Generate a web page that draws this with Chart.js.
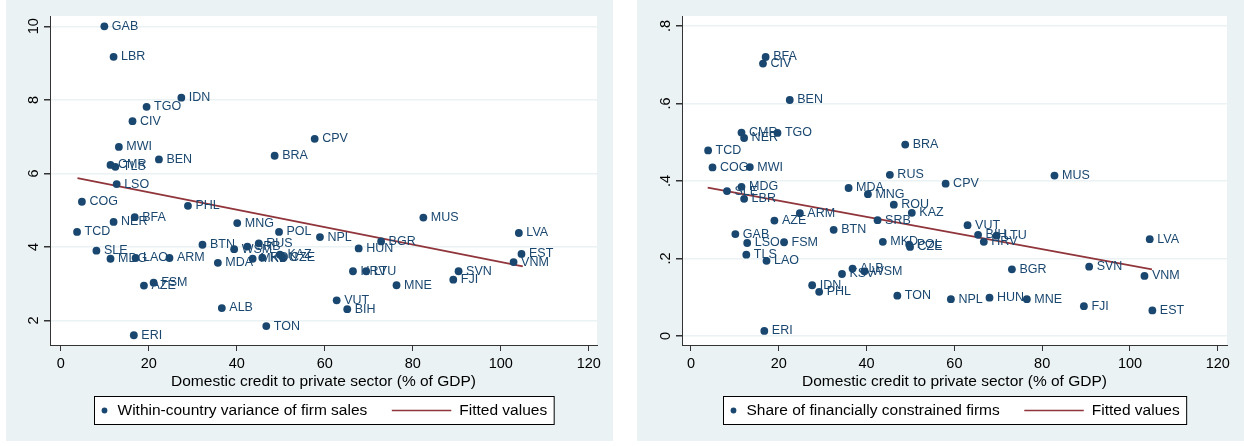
<!DOCTYPE html>
<html>
<head>
<meta charset="utf-8">
<script src="https://cdn.jsdelivr.net/npm/chart.js@4.4.1/dist/chart.umd.min.js"></script>
<style>
  html, body { margin: 0; padding: 0; background: #fff; }
  .panel { position: absolute; top: 0; width: 622px; height: 446px; }
  #leftPanel { left: 0; }
  #rightPanel { left: 622px; }
</style>
</head>
<body>
<div class="panel" id="leftPanel"><canvas id="chartLeft" width="622" height="446"></canvas></div>
<div class="panel" id="rightPanel"><canvas id="chartRight" width="622" height="446"></canvas></div>
<script>
// Data
const xTicks = [0, 20, 40, 60, 80, 100, 120];

const leftCodes = ["GAB","LBR","IDN","TGO","CIV","MWI","BEN","BRA","CPV","CMR","TLS","LSO","COG","PHL","BFA","NER","MNG","TCD","POL","MUS","LVA","NPL","BGR","RUS","BTN","SRB","HUN","WSM","SLE","EST","KAZ","CZE","ROU","LAO","ARM","MDG","MKD","VNM","MDA","HRV","LTU","SVN","FJI","FSM","MNE","AZE","VUT","ALB","BIH","TON","ERI"];
const leftCredit = [9.9,12.0,27.4,19.5,16.3,13.2,22.3,48.6,57.7,11.3,12.4,12.7,4.8,28.9,16.8,12.0,40.1,3.7,49.6,82.4,104.1,58.9,72.8,45.0,32.2,42.4,67.7,39.4,8.1,104.7,49.8,50.4,45.8,17.0,24.7,11.3,43.6,102.9,35.7,66.4,69.4,90.4,89.2,21.1,76.3,18.9,62.7,36.6,65.1,46.7,16.6];
const leftVariance = [10.0,9.17,8.06,7.81,7.42,6.72,6.38,6.48,6.94,6.23,6.18,5.71,5.23,5.12,4.81,4.68,4.65,4.41,4.41,4.80,4.38,4.27,4.15,4.10,4.06,4.01,3.96,3.94,3.90,3.81,3.79,3.72,3.71,3.70,3.70,3.68,3.68,3.59,3.57,3.34,3.34,3.34,3.11,3.03,2.96,2.95,2.55,2.34,2.31,1.85,1.60];
const leftFitX = [3.8, 105];
const leftFitY = [5.87, 3.47];
const leftYTicks = [2, 4, 6, 8, 10];
const leftYTickLabels = ["2", "4", "6", "8", "10"];

const rightCodes = ["BFA","CIV","BEN","CMR","TGO","NER","BRA","TCD","COG","MWI","RUS","MUS","CPV","MDG","MDA","SLE","MNG","LBR","ROU","KAZ","ARM","SRB","AZE","VUT","BTN","GAB","BIH","LTU","LVA","MKD","HRV","FSM","LSO","POL","CZE","TLS","LAO","SVN","ALB","BGR","WSM","KSV","VNM","IDN","PHL","TON","HUN","NPL","MNE","FJI","EST","ERI"];
const rightCredit = [17.0,16.4,22.5,11.5,19.7,12.1,48.8,3.9,4.9,13.4,45.3,82.8,58.0,11.5,35.9,8.2,40.3,12.1,46.2,50.3,24.8,42.5,19.0,63.0,32.5,10.1,65.4,69.6,104.5,43.7,66.7,21.2,12.8,49.7,49.9,12.6,17.2,90.7,36.8,73.1,39.5,34.4,103.3,27.6,29.2,47.0,68.0,59.2,76.5,89.5,105.1,16.7];
const rightShare = [.720,.703,.609,.525,.524,.511,.494,.479,.435,.436,.416,.414,.393,.385,.382,.374,.366,.354,.339,.318,.317,.299,.298,.286,.274,.263,.261,.259,.250,.243,.243,.242,.240,.236,.230,.210,.194,.179,.174,.172,.167,.160,.155,.131,.114,.104,.099,.095,.095,.077,.066,.013];
const rightFitX = [3.8, 105];
const rightFitY = [0.383, 0.172];
const rightYTicks = [0, 0.2, 0.4, 0.6, 0.8];
const rightYTickLabels = ["0", ".2", ".4", ".6", ".8"];

const navy = "#1A476F";
const maroon = "#90353B";
const bgColor = "#EAF2F3";
const axisColor = "#333333";
const fontFamily = "'Liberation Sans', Arial, Helvetica, sans-serif";

Chart.defaults.font.family = fontFamily;

const stataPlugin = {
    id: "stata",
    beforeDraw(chart, args, opts) {
        const { ctx, chartArea: a } = chart;
        ctx.save();
        ctx.fillStyle = bgColor;
        ctx.fillRect(opts.bgLeft, 0, 607, 441);
        ctx.fillStyle = "#fff";
        ctx.fillRect(a.left, a.top, a.right - a.left, a.bottom - a.top);
        ctx.restore();
    },
    afterDatasetsDraw(chart, args, opts) {
        // country codes to the right of each marker
        const ctx = chart.ctx;
        const meta = chart.getDatasetMeta(0);
        ctx.save();
        ctx.font = "12.5px " + fontFamily;
        ctx.fillStyle = navy;
        ctx.textAlign = "left";
        ctx.textBaseline = "middle";
        meta.data.forEach((el, i) => {
            ctx.fillText(opts.codes[i], el.x + 7.5, el.y);
        });
        ctx.restore();
    },
    afterDraw(chart, args, opts) {
        const { ctx, chartArea: a } = chart;
        const yScale = chart.scales.y;
        ctx.save();
        // vertical y tick labels, as Stata draws them
        ctx.font = "14.5px " + fontFamily;
        ctx.fillStyle = "#000";
        ctx.textAlign = "center";
        ctx.textBaseline = "alphabetic";
        opts.yTicks.forEach((v, i) => {
            const py = yScale.getPixelForValue(v);
            ctx.save();
            ctx.translate(a.left - 12.5, py);
            ctx.rotate(-Math.PI / 2);
            ctx.fillText(opts.yTickLabels[i], 0, 0);
            ctx.restore();
        });

        // legend box
        const label1 = chart.data.datasets[0].label;
        const label2 = chart.data.datasets[1].label;
        ctx.font = "15.5px " + fontFamily;
        const w1 = ctx.measureText(label1).width;
        const w2 = ctx.measureText(label2).width;
        const w = 23 + w1 + 24.5 + 59.5 + 8 + w2 + 7;
        const x0 = Math.round((a.left + a.right) / 2 - w / 2) + 0.5;
        const top = 396.5, h = 28, cy = 410.5;
        ctx.fillStyle = "#fff";
        ctx.fillRect(x0, top, w, h);
        ctx.strokeStyle = "#000";
        ctx.lineWidth = 1;
        ctx.strokeRect(x0, top, w, h);
        ctx.fillStyle = navy;
        ctx.beginPath();
        ctx.arc(x0 + 10, cy, 2.9, 0, Math.PI * 2);
        ctx.fill();
        ctx.fillStyle = "#000";
        ctx.textAlign = "left";
        ctx.textBaseline = "middle";
        ctx.fillText(label1, x0 + 23, cy);
        const lx = x0 + 23 + w1 + 24.5;
        ctx.strokeStyle = maroon;
        ctx.lineWidth = 1.6;
        ctx.beginPath();
        ctx.moveTo(lx, cy);
        ctx.lineTo(lx + 59.5, cy);
        ctx.stroke();
        ctx.fillText(label2, lx + 59.5 + 8, cy);
        ctx.restore();
    }
};

const makeChart = function(elementId, p) {
    const ctx = document.getElementById(elementId);
    return new Chart(ctx, {
        type: "scatter",
        data: {
            datasets: [
                {
                    label: p.seriesLabel,
                    data: p.xs.map((x, i) => ({ x: x, y: p.ys[i] })),
                    backgroundColor: navy,
                    borderWidth: 0,
                    pointRadius: 3.9,
                    pointHoverRadius: 3.9
                },
                {
                    type: "line",
                    label: "Fitted values",
                    data: p.fitX.map((x, i) => ({ x: x, y: p.fitY[i] })),
                    borderColor: maroon,
                    borderWidth: 1.8,
                    pointRadius: 0,
                    fill: false
                }
            ]
        },
        options: {
            responsive: false,
            animation: false,
            events: [],
            layout: {
                autoPadding: false,
                padding: { top: 16, right: p.padRight, bottom: 54.6, left: 0 }
            },
            plugins: {
                legend: { display: false },
                tooltip: { enabled: false },
                stata: {
                    bgLeft: p.bgLeft,
                    codes: p.codes,
                    yTicks: p.yTicks,
                    yTickLabels: p.yTickLabels
                }
            },
            scales: {
                x: {
                    type: "linear",
                    min: p.xMin,
                    max: p.xMax,
                    afterBuildTicks: s => { s.ticks = xTicks.map(v => ({ value: v })); },
                    afterFit: s => { s.height = 46.4; },
                    border: { display: true, color: axisColor, width: 1 },
                    grid: { drawOnChartArea: false, drawTicks: true, tickLength: 6, tickColor: axisColor },
                    ticks: {
                        color: "#000",
                        font: { size: 14.5 },
                        padding: 4.5,
                        maxRotation: 0,
                        autoSkip: false,
                        callback: v => String(v)
                    },
                    title: {
                        display: true,
                        text: "Domestic credit to private sector (% of GDP)",
                        color: "#000",
                        font: { size: 15.5 },
                        padding: { top: 0, bottom: 0 }
                    }
                },
                y: {
                    type: "linear",
                    min: p.yMin,
                    max: p.yMax,
                    afterBuildTicks: s => { s.ticks = p.yTicks.map(v => ({ value: v })); },
                    afterFit: s => { s.width = p.yAxisWidth; },
                    border: { display: true, color: axisColor, width: 1 },
                    grid: { color: bgColor, lineWidth: 1.5, drawTicks: true, tickLength: 6, tickColor: axisColor },
                    ticks: { display: false }
                }
            }
        },
        plugins: [stataPlugin]
    });
};

makeChart("chartLeft", {
    seriesLabel: "Within-country variance of firm sales",
    codes: leftCodes, xs: leftCredit, ys: leftVariance,
    fitX: leftFitX, fitY: leftFitY,
    yTicks: leftYTicks, yTickLabels: leftYTickLabels,
    xMin: -2.45, xMax: 121.86, yMin: 1.335, yMax: 10.28,
    yAxisWidth: 50, padRight: 25, bgLeft: 6
});

makeChart("chartRight", {
    seriesLabel: "Share of financially constrained firms",
    codes: rightCodes, xs: rightCredit, ys: rightShare,
    fitX: rightFitX, fitY: rightFitY,
    yTicks: rightYTicks, yTickLabels: rightYTickLabels,
    xMin: -2.05, xMax: 122.1, yMin: -0.0232, yMax: 0.8258,
    yAxisWidth: 60, padRight: 17, bgLeft: 15
});
</script>
</body>
</html>
